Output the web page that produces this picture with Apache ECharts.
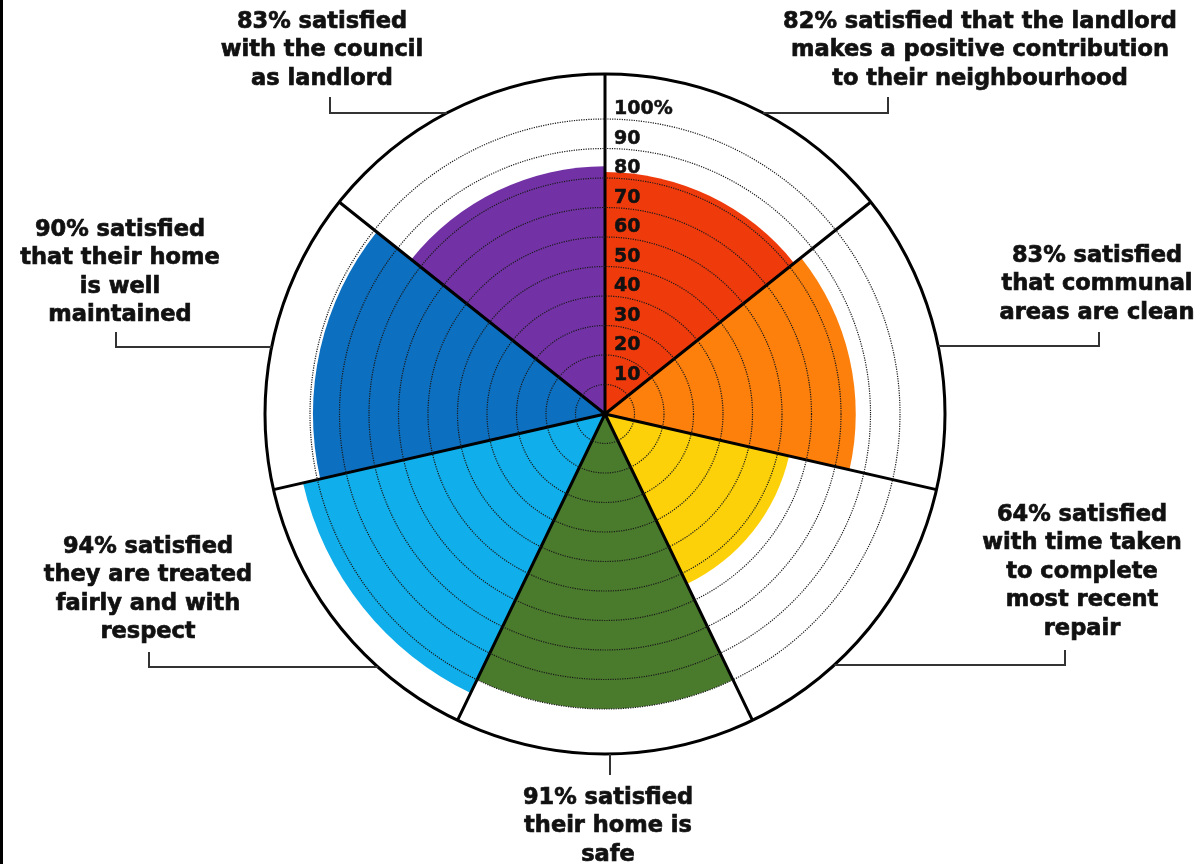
<!DOCTYPE html>
<html>
<head>
<meta charset="utf-8">
<title>Tenant satisfaction</title>
<script src="https://cdn.jsdelivr.net/npm/echarts@6/dist/echarts.min.js"></script>
<style>
  html, body { margin: 0; padding: 0; background: #fff; }
  #chart { width: 1204px; height: 864px; }
</style>
</head>
<body>
<div id="chart"></div>
<script>
// seven measures, clockwise from 12 o'clock
const categories = ['contribution', 'communal', 'repair', 'safe', 'respect', 'maintained', 'council']
// how far each wedge reaches on the 0-100 ring scale
const reach = [82, 85, 64, 100, 105, 99, 84]
const colors = ['#ef3a0c', '#fd7f0c', '#fdd10a', '#4a7a2c', '#10aeea', '#0c6fc0', '#7232a6']
const captions = [
  ['82% satisfied that the landlord', 'makes a positive contribution', 'to their neighbourhood'],
  ['83% satisfied', 'that communal', 'areas are clean'],
  ['64% satisfied', 'with time taken', 'to complete', 'most recent', 'repair'],
  ['91% satisfied', 'their home is', 'safe'],
  ['94% satisfied', 'they are treated', 'fairly and with', 'respect'],
  ['90% satisfied', 'that their home', 'is well', 'maintained'],
  ['83% satisfied', 'with the council', 'as landlord']
]
const ringMax = 100
const ringStep = 10

const CX = 605
const CY = 414
const PX_PER_UNIT = 2.95
const OUTER_R = 340
const LINE_H = 28.5

// where each caption sits and how its leader line runs
const captionLayout = [
  { x: 980, y: 22, tickX: 888, y1: 97, y2: 113 },
  { x: 1097, y: 256, tickX: 1099, y1: 332, y2: 346 },
  { x: 1082, y: 515, tickX: 1065, y1: 650, y2: 665 },
  { x: 608, y: 798, tickX: 610, y1: 775, y2: null },
  { x: 148, y: 547, tickX: 149, y1: 652, y2: 667 },
  { x: 120, y: 230, tickX: 116, y1: 332, y2: 347 },
  { x: 322, y: 22, tickX: 330, y1: 97, y2: 113 }
]

function circleX(y, side) {
  const dy = y - CY
  return CX + side * Math.sqrt(OUTER_R * OUTER_R - dy * dy)
}

const graphics = [
  { type: 'rect', shape: { x: 0, y: 0, width: 3, height: 864 }, style: { fill: '#000' } }
]
captions.forEach((lines, i) => {
  const l = captionLayout[i]
  graphics.push({
    type: 'text',
    z: 20,
    style: {
      text: lines.join('\n'),
      x: l.x,
      y: l.y - LINE_H / 2,
      align: 'center',
      verticalAlign: 'top',
      fontFamily: 'DejaVu Sans',
      fontWeight: 'bold',
      fontSize: 22.5,
      lineHeight: LINE_H,
      fill: '#111',
      stroke: '#111',
      lineWidth: 0.7
    }
  })
  let points
  if (l.y2 === null) {
    points = [[l.tickX, CY + OUTER_R], [l.tickX, l.y1]]
  } else {
    const side = l.tickX > CX ? 1 : -1
    points = [[l.tickX, l.y1], [l.tickX, l.y2], [circleX(l.y2, side), l.y2]]
  }
  graphics.push({
    type: 'polyline',
    z: 20,
    shape: { points },
    style: { stroke: '#333', lineWidth: 2, fill: null }
  })
})

const chart = echarts.init(document.getElementById('chart'))
chart.setOption({
  animation: false,
  backgroundColor: '#fff',
  polar: [
    { center: [CX, CY], radius: OUTER_R },
    { center: [CX, CY], radius: ringMax * PX_PER_UNIT }
  ],
  angleAxis: [
    {
      polarIndex: 0,
      type: 'category',
      data: categories,
      startAngle: 90,
      clockwise: true,
      boundaryGap: true,
      z: 6,
      axisLine: { show: true, lineStyle: { color: '#000', width: 3 } },
      axisTick: { show: false },
      axisLabel: { show: false },
      splitLine: { show: true, lineStyle: { color: '#000', width: 3 } }
    },
    {
      polarIndex: 1,
      type: 'value',
      min: 0,
      max: 360,
      startAngle: 90,
      show: false
    }
  ],
  radiusAxis: [
    {
      polarIndex: 0,
      type: 'value',
      min: 0,
      max: OUTER_R / PX_PER_UNIT,
      show: false
    },
    {
      polarIndex: 1,
      type: 'value',
      min: 0,
      max: ringMax,
      interval: ringStep,
      z: 8,
      axisLine: { show: false },
      axisTick: { show: false },
      axisLabel: {
        margin: -9,
        align: 'left',
        verticalAlign: 'bottom',
        fontFamily: 'DejaVu Sans',
        fontWeight: 'bold',
        fontSize: 19,
        color: '#111',
        textBorderColor: '#111',
        textBorderWidth: 0.5,
        formatter: (v) => (v === 0 ? '' : v === ringMax ? v + '%' : String(v))
      },
      splitLine: { show: true, lineStyle: { type: 'dotted', color: '#1a1a1a', width: 1.2 } }
    }
  ],
  series: [
    {
      type: 'bar',
      coordinateSystem: 'polar',
      polarIndex: 0,
      barCategoryGap: '0%',
      z: 2,
      data: reach.map((v, i) => ({ value: v, itemStyle: { color: colors[i] } }))
    }
  ],
  graphic: graphics
})
</script>
</body>
</html>
